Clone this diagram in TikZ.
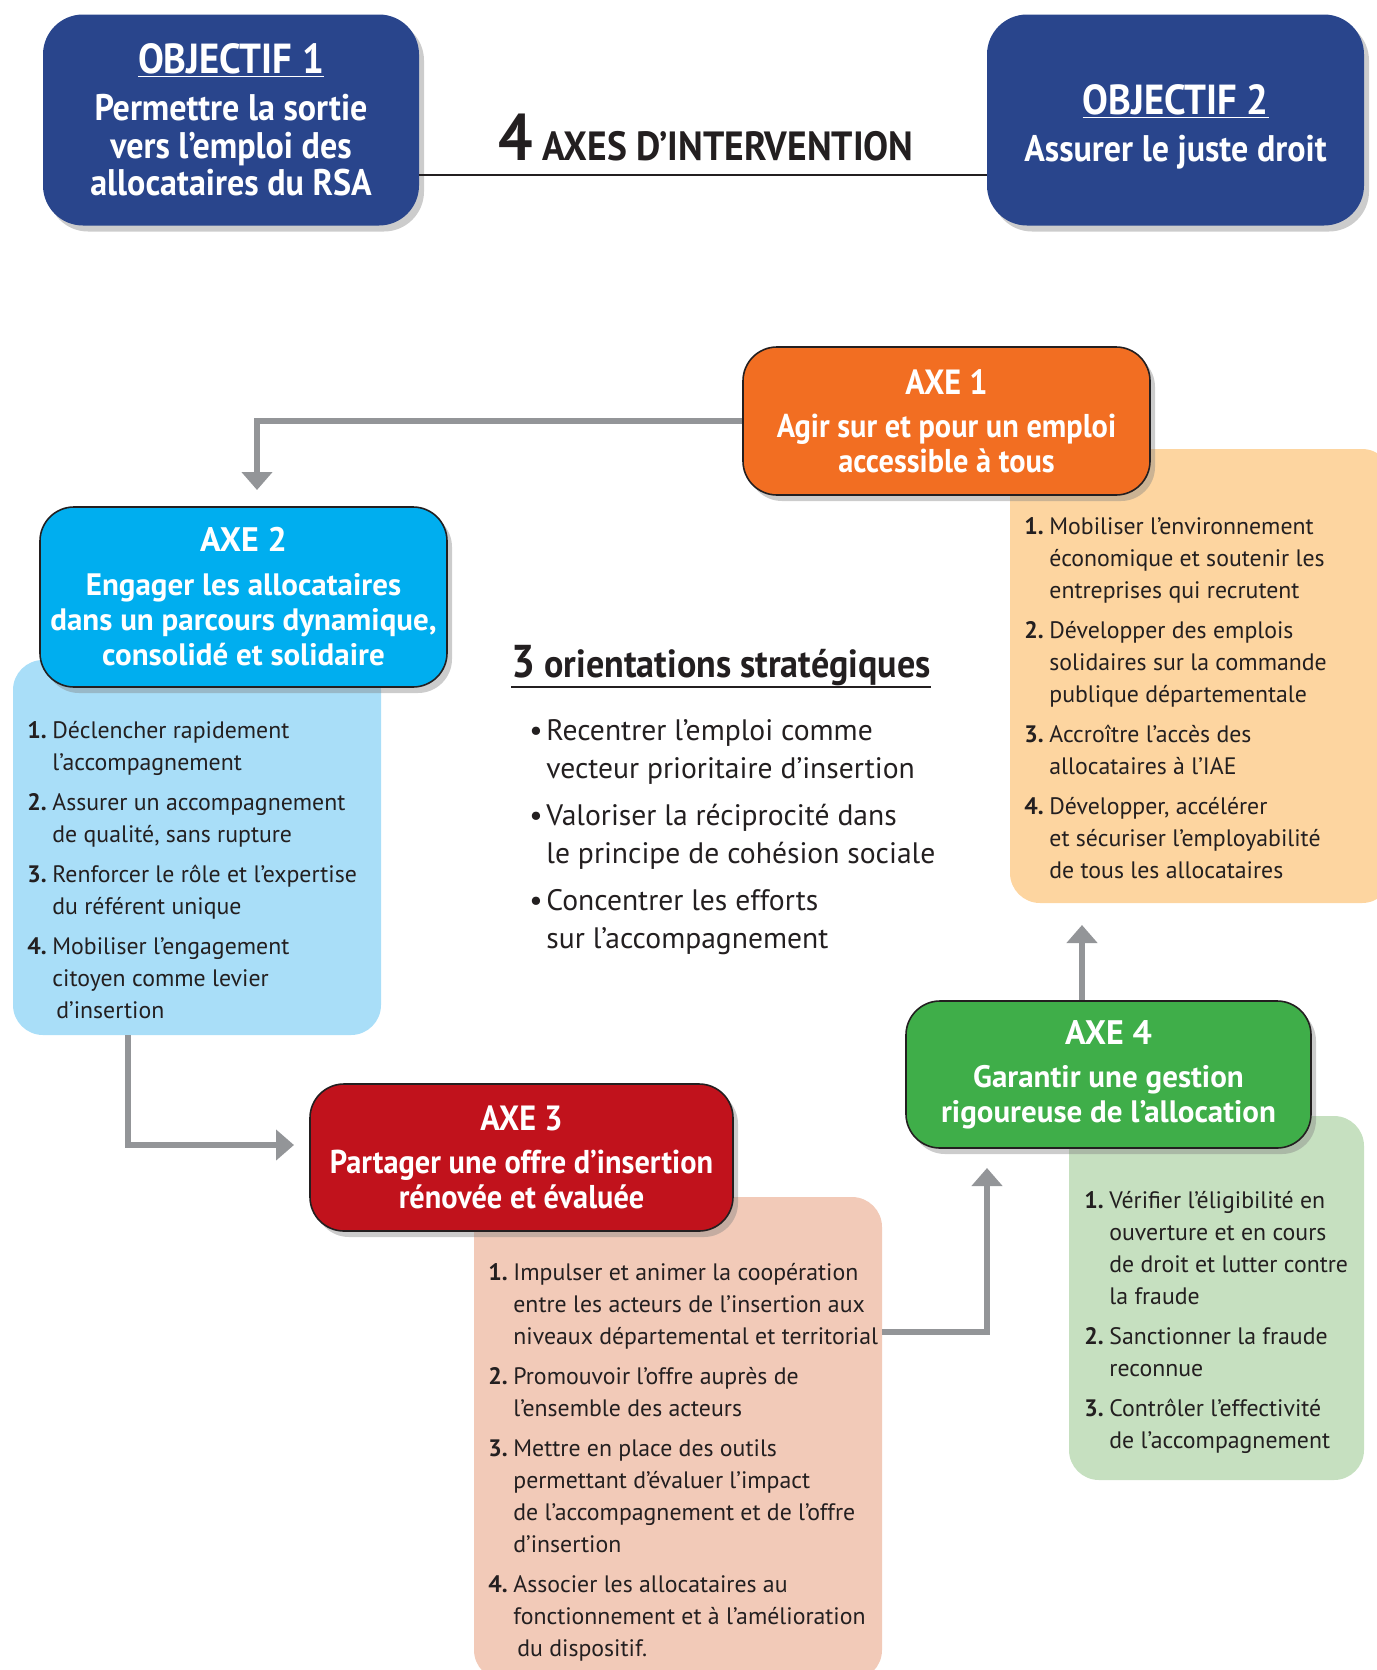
\documentclass[tikz,border=0pt]{standalone}
\usepackage{fontspec}
\setmainfont{PT Sans}
\newfontfamily\condfont[FakeStretch=0.92]{PT Sans}
\usetikzlibrary{positioning, calc, arrows.meta, shadows}

\definecolor{objblue}{RGB}{41,69,140}
\definecolor{axeorange}{RGB}{242,110,34}
\definecolor{bgorange}{RGB}{253,213,160}
\definecolor{axecyan}{RGB}{0,174,239}
\definecolor{bgcyan}{RGB}{169,222,248}
\definecolor{axered}{RGB}{193,18,28}
\definecolor{bgred}{RGB}{242,202,184}
\definecolor{axegreen}{RGB}{63,174,73}
\definecolor{bggreen}{RGB}{198,224,192}
\definecolor{flowgray}{RGB}{147,149,152}
\definecolor{ink}{RGB}{35,31,32}

\tikzset{
  objbox/.style={rectangle, rounded corners=20pt, fill=objblue, text=white, align=center, inner sep=0pt,
    font=\condfont\bfseries\fontsize{18.5}{18.75}\selectfont,
    drop shadow={shadow xshift=2.5pt, shadow yshift=-3pt, opacity=0.4}},
  axebox/.style={rectangle, rounded corners=17pt, draw=ink, line width=0.8pt, text=white, align=center, inner sep=0pt,
    drop shadow={shadow xshift=2.5pt, shadow yshift=-3pt, opacity=0.4}},
  condhead/.style={font=\condfont\bfseries\fontsize{16.5}{17.5}\selectfont},
  widehead/.style={font=\bfseries\fontsize{15.5}{17.5}\selectfont},
  listbg/.style={rectangle, rounded corners=15pt, inner sep=0pt},
  listtext/.style={anchor=base west, inner sep=0pt, text=ink, font=\fontsize{11.9}{16}\selectfont},
  flow/.style={draw=flowgray, line width=3pt, -{Triangle[width=15pt,length=9pt]}},
}

\begin{document}
\begin{tikzpicture}[x=0.5pt, y=-0.5pt]
  \useasboundingbox (0,0) rectangle (1376,1670);

  % objectifs
  \node (obj1) [objbox, minimum width=188pt, minimum height=105.5pt] at (231,120)
    {{\fontsize{21}{20}\selectfont\underline{OBJECTIF 1}}\\[5pt]
     Permettre la sortie\\vers l’emploi des\\allocataires du RSA};
  \node (obj2) [objbox, minimum width=188.5pt, minimum height=105.5pt] at (1175.5,120)
    {{\fontsize{21}{20}\selectfont\rule{0pt}{22pt}\underline{OBJECTIF 2}}\\[5pt]
     Assurer le juste droit};
  \draw[ink, line width=1pt] ($(obj1.south east)+(0,-51)$) -- ($(obj2.south west)+(0,-51)$);
  \node (axes) [anchor=base, inner sep=0pt, text=ink, font=\condfont\bfseries\fontsize{20.4}{22}\selectfont] at (706,160)
    {{\fontsize{33}{33}\selectfont 4} AXES D’INTERVENTION};

  % fonds des listes
  \node (list1) [listbg, fill=bgorange, minimum width=191pt, minimum height=227pt] at (1201,676) {};
  \node (list2) [listbg, fill=bgcyan, minimum width=184pt, minimum height=187.5pt] at (197,847.5) {};
  \node (list3) [listbg, fill=bgred, minimum width=204pt, minimum height=241.5pt] at (678,1438.5) {};
  \node (list4) [listbg, fill=bggreen, minimum width=147.5pt, minimum height=182pt] at (1216.5,1298) {};

  % fleches
  \coordinate (in2) at (257,490);
  \coordinate (out2) at ($(list2.south west)+(115,0)$);
  \coordinate (in3) at (294,1145);
  \coordinate (out3) at ($(list3.north east)+(0,135)$);
  \coordinate (in4) at (987,1168);
  \coordinate (in1) at (1082,925);

  % axes
  \node (axe1) [axebox, condhead, fill=axeorange, minimum width=203.5pt, minimum height=74pt] at (946.5,421)
    {{\fontsize{17.5}{17.5}\selectfont AXE 1}\\[4pt]Agir sur et pour un emploi\\accessible à tous};
  \node (axe2) [axebox, widehead, fill=axecyan, minimum width=203.5pt, minimum height=90pt] at (243.5,597)
    {{\fontsize{17}{17.5}\selectfont AXE 2}\\[4.5pt]Engager les allocataires\\dans un parcours dynamique,\\consolidé et solidaire};
  \node (axe3) [axebox, condhead, fill=axered, minimum width=211.5pt, minimum height=73.5pt] at (521.5,1157.5)
    {{\fontsize{17.5}{17.5}\selectfont AXE 3}\\[4pt]Partager une offre d’insertion\\rénovée et évaluée};
  \node (axe4) [axebox, widehead, fill=axegreen, minimum width=202.5pt, minimum height=73.5pt] at (1108.5,1074.5)
    {{\fontsize{17}{17.5}\selectfont AXE 4}\\[4pt]Garantir une gestion\\rigoureuse de l’allocation};

  \draw[flow] (axe1.west) -| (in2);
  \draw[flow] (out2) |- (in3);
  \draw[flow] (out3) -| (in4);
  \draw[flow] ($(axe4.north)+(-26.5,0)$) -- (in1);

  % listes
  \node (items1) [listtext] at (1024,534) {%
    \begin{tabular}[t]{@{}p{12.5pt}@{}l@{}}
      \textbf{1.} & Mobiliser l’environnement\\
       & économique et soutenir les\\
       & entreprises qui recrutent\\[4pt]
      \textbf{2.} & Développer des emplois\\
       & solidaires sur la commande\\
       & publique départementale\\[4pt]
      \textbf{3.} & Accroître l’accès des\\
       & allocataires à l’IAE\\[4pt]
      \textbf{4.} & Développer, accélérer\\
       & et sécuriser l’employabilité\\
       & de tous les allocataires
    \end{tabular}};
  \node (items2) [listtext] at (27,738) {%
    \begin{tabular}[t]{@{}p{12.5pt}@{}l@{}}
      \textbf{1.} & Déclencher rapidement\\
       & l’accompagnement\\[4pt]
      \textbf{2.} & Assurer un accompagnement\\
       & de qualité, sans rupture\\[4pt]
      \textbf{3.} & Renforcer le rôle et l’expertise\\
       & du référent unique\\[4pt]
      \textbf{4.} & Mobiliser l’engagement\\
       & citoyen comme levier\\
       & \,d’insertion
    \end{tabular}};
  \node (items3) [listtext] at (488,1280) {%
    \begin{tabular}[t]{@{}p{12.5pt}@{}l@{}}
      \textbf{1.} & Impulser et animer la coopération\\
       & entre les acteurs de l’insertion aux\\
       & niveaux départemental et territorial\\[4pt]
      \textbf{2.} & Promouvoir l’offre auprès de\\
       & l’ensemble des acteurs\\[4pt]
      \textbf{3.} & Mettre en place des outils\\
       & permettant d’évaluer l’impact\\
       & de l’accompagnement et de l’offre\\
       & d’insertion\\[4pt]
      \textbf{4.} & Associer les allocataires au\\
       & fonctionnement et à l’amélioration\\
       & \,du dispositif.
    \end{tabular}};
  \node (items4) [listtext] at (1084,1208) {%
    \begin{tabular}[t]{@{}p{12.5pt}@{}l@{}}
      \textbf{1.} & Vérifier l’éligibilité en\\
       & ouverture et en cours\\
       & de droit et lutter contre\\
       & la fraude\\[4pt]
      \textbf{2.} & Sanctionner la fraude\\
       & reconnue\\[4pt]
      \textbf{3.} & Contrôler l’effectivité\\
       & de l’accompagnement
    \end{tabular}};

  % orientations
  \node (orient) [anchor=base, inner sep=0pt, text=ink, font=\condfont\bfseries\fontsize{19.6}{22}\selectfont] at (721,677)
    {{\fontsize{23}{24}\selectfont 3} orientations stratégiques};
  \draw[ink, line width=0.8pt] ($(orient.base west)+(0,10)$) -- ($(orient.base east)+(0,10)$);
  \node (bullets) [listtext, font=\fontsize{14.8}{19}\selectfont] at (529,740) {%
    \begin{tabular}[t]{@{}p{8.5pt}@{}l@{}}
      • & Recentrer l’emploi comme\\
        & vecteur prioritaire d’insertion\\[4.5pt]
      • & Valoriser la réciprocité dans\\
        & le principe de cohésion sociale\\[4.5pt]
      • & Concentrer les efforts\\
        & sur l’accompagnement
    \end{tabular}};
\end{tikzpicture}
\end{document}
